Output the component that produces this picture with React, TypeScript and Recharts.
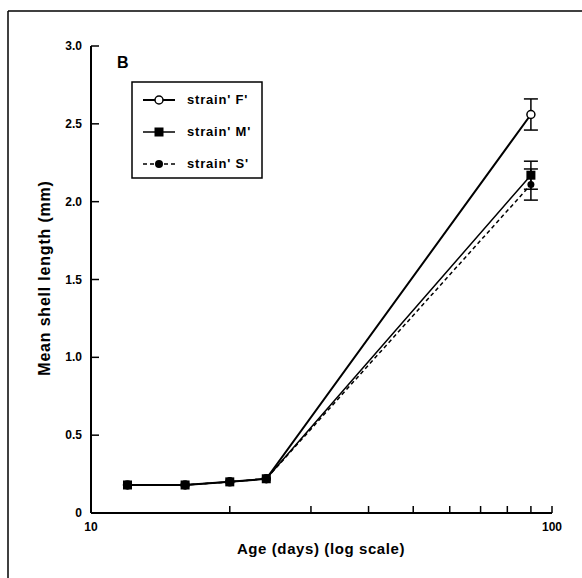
import { LineChart, Line, XAxis, YAxis, ErrorBar } from 'recharts';

// age in days (log axis) and mean shell length (mm) per strain
const ageDays = [12, 16, 20, 24, 90];
const strainF = [0.18, 0.18, 0.2, 0.22, 2.56];
const strainM = [0.18, 0.18, 0.2, 0.22, 2.17];
const strainS = [0.18, 0.18, 0.2, 0.22, 2.11];
const errF = [null, null, null, null, 0.1];
const errM = [null, null, null, null, 0.09];
const errS = [null, null, null, null, 0.1];

const xTicks = [10, 20, 30, 40, 50, 60, 70, 80, 90, 100];
const xTickLabels: Record<number, string> = { 10: '10', 100: '100' };
const yTicks = [0, 0.5, 1, 1.5, 2, 2.5, 3];

const legendItems = ["strain' F'", "strain' M'", "strain' S'"];

const data = ageDays.map((age, i) => ({
  age,
  f: strainF[i],
  m: strainM[i],
  s: strainS[i],
  fErr: errF[i],
  mErr: errM[i],
  sErr: errS[i],
}));

const FONT = '"Liberation Sans", Arial, sans-serif';

function XTick({ x, y, payload }: any) {
  const label = xTickLabels[payload.value];
  return (
    <g>
      <line x1={x} x2={x} y1={y} y2={y - 7} stroke="#000" strokeWidth={1.5} />
      {label && (
        <text x={x} y={y + 18} textAnchor="middle" fontFamily={FONT} fontWeight="bold" fontSize={12} fill="#000">
          {label}
        </text>
      )}
    </g>
  );
}

function YTick({ x, y, payload }: any) {
  const v = payload.value;
  return (
    <g>
      <line x1={x} x2={x + 8} y1={y} y2={y} stroke="#000" strokeWidth={1.5} />
      <text x={x - 9} y={y + 4} textAnchor="end" fontFamily={FONT} fontWeight="bold" fontSize={12} fill="#000">
        {v === 0 ? '0' : v.toFixed(1)}
      </text>
    </g>
  );
}

function SquareDot({ cx, cy, index }: any) {
  return <rect key={`sq-${index}`} x={cx - 4.5} y={cy - 4.5} width={9} height={9} fill="#000" />;
}

export default function App() {
  return (
    <div style={{ position: 'absolute', left: 0, top: 0, width: 582, height: 578, background: '#fff' }}>
      <LineChart
        width={582}
        height={578}
        data={data}
        margin={{ top: 46, right: 30, bottom: 0, left: 31 }}
      >
        <XAxis
          dataKey="age"
          type="number"
          scale="log"
          domain={[10, 100]}
          ticks={xTicks}
          interval={0}
          height={65}
          tickSize={0}
          tickMargin={0}
          tickLine={false}
          axisLine={{ stroke: '#000', strokeWidth: 2 }}
          tick={<XTick />}
          allowDataOverflow
        />
        <YAxis
          type="number"
          domain={[0, 3]}
          ticks={yTicks}
          interval={0}
          width={60}
          tickSize={0}
          tickMargin={0}
          tickLine={false}
          axisLine={{ stroke: '#000', strokeWidth: 2 }}
          tick={<YTick />}
        />
        <Line
          dataKey="f"
          stroke="#000"
          strokeWidth={2}
          dot={{ r: 4, fill: '#fff', stroke: '#000', strokeWidth: 1.5 }}
          isAnimationActive={false}
        >
          <ErrorBar dataKey="fErr" direction="y" width={7} stroke="#000" strokeWidth={1.5} />
        </Line>
        <Line
          dataKey="s"
          stroke="#000"
          strokeWidth={1.5}
          strokeDasharray="4 3"
          dot={{ r: 3.5, fill: '#000', stroke: 'none' }}
          isAnimationActive={false}
        >
          <ErrorBar dataKey="sErr" direction="y" width={7} stroke="#000" strokeWidth={1.5} />
        </Line>
        <Line
          dataKey="m"
          stroke="#000"
          strokeWidth={1.5}
          dot={<SquareDot />}
          isAnimationActive={false}
        >
          <ErrorBar dataKey="mErr" direction="y" width={7} stroke="#000" strokeWidth={1.5} />
        </Line>
      </LineChart>

      <svg
        width={582}
        height={578}
        style={{ position: 'absolute', left: 0, top: 0, pointerEvents: 'none' }}
      >
        {/* figure frame (top and left edge of the scanned panel) */}
        <line x1={8} x2={582} y1={11} y2={11} stroke="#000" strokeWidth={1.5} />
        <line x1={8} x2={8} y1={11} y2={578} stroke="#000" strokeWidth={1.5} />

        <text x={117} y={68} fontFamily={FONT} fontWeight="bold" fontSize={16} fill="#000">B</text>

        {/* legend */}
        <rect x={132} y={82} width={130} height={96} fill="#fff" stroke="#000" strokeWidth={1.5} />
        {legendItems.map((label, i) => {
          const y = 100 + i * 32;
          return (
            <g key={label}>
              <line
                x1={143}
                x2={175}
                y1={y}
                y2={y}
                stroke="#000"
                strokeWidth={i === 0 ? 2 : 1.5}
                strokeDasharray={i === 2 ? '4 3' : undefined}
              />
              {i === 0 && <circle cx={159} cy={y} r={4} fill="#fff" stroke="#000" strokeWidth={1.5} />}
              {i === 1 && <rect x={154.5} y={y - 4.5} width={9} height={9} fill="#000" />}
              {i === 2 && <circle cx={159} cy={y} r={4} fill="#000" />}
              <text
                x={187}
                y={y + 4}
                fontFamily={FONT}
                fontWeight="bold"
                fontSize={13}
                letterSpacing={0.8}
                fill="#000"
              >
                {label}
              </text>
            </g>
          );
        })}

        <text
          x={50}
          y={278}
          transform="rotate(-90 50 278)"
          textAnchor="middle"
          fontFamily={FONT}
          fontWeight="bold"
          fontSize={16}
          letterSpacing={0.8}
          fill="#000"
        >
          Mean shell length (mm)
        </text>
        <text
          x={321}
          y={554}
          textAnchor="middle"
          fontFamily={FONT}
          fontWeight="bold"
          fontSize={15}
          letterSpacing={0.6}
          fill="#000"
        >
          Age (days) (log scale)
        </text>
      </svg>
    </div>
  );
}
